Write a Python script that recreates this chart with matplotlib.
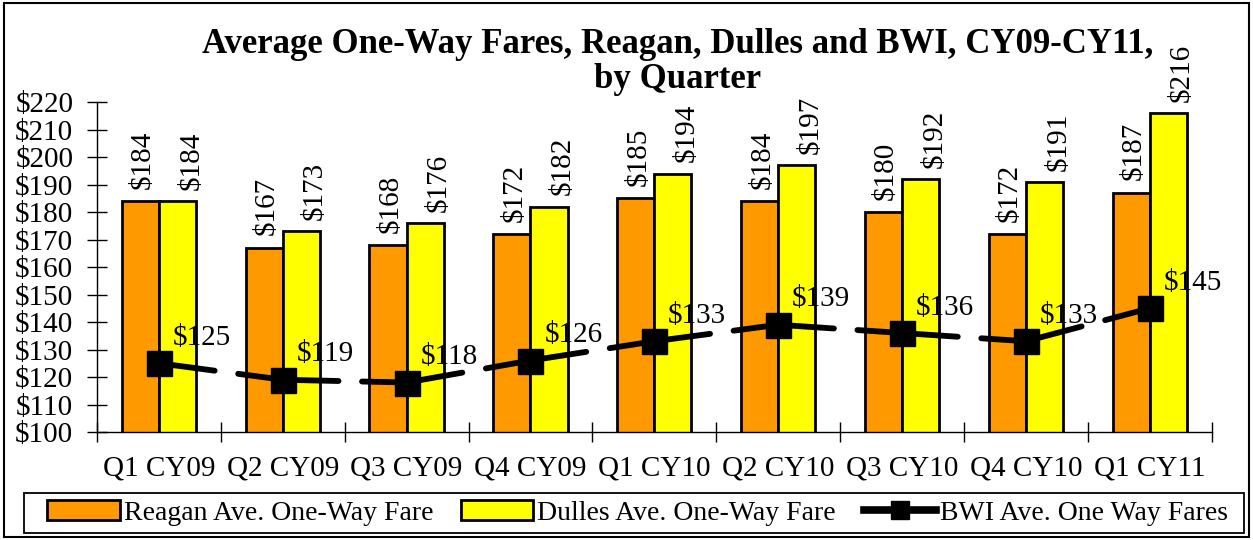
import matplotlib
matplotlib.use("Agg")
import matplotlib.pyplot as plt
import numpy as np
from matplotlib.patches import Rectangle
from matplotlib.lines import Line2D

categories = ["Q1 CY09", "Q2 CY09", "Q3 CY09", "Q4 CY09", "Q1 CY10",
              "Q2 CY10", "Q3 CY10", "Q4 CY10", "Q1 CY11"]
reagan = [184, 167, 168, 172, 185, 184, 180, 172, 187]
dulles = [184, 173, 176, 182, 194, 197, 192, 191, 216]
bwi = [125, 119, 118, 126, 133, 139, 136, 133, 145]
yticks = list(range(100, 221, 10))

plt.rcParams['font.family'] = ['Liberation Serif', 'DejaVu Serif']

fig = plt.figure(figsize=(12.53, 5.4), dpi=100)
ax = fig.add_axes([0.0774, 0.2, 0.8896, 0.611])

x = np.arange(len(categories))
w = 0.3
h1 = ax.bar(x - w / 2, reagan, w, color="#FF9900", edgecolor="black", linewidth=2,
            zorder=2)
h2 = ax.bar(x + w / 2, dulles, w, color="#FFFF00", edgecolor="black", linewidth=2,
            zorder=2)

# broken line segments between markers
for i in range(len(x) - 1):
    x0, y0, x1, y1 = x[i], bwi[i], x[i + 1], bwi[i + 1]
    dx, dy = x1 - x0, y1 - y0
    ax.plot([x0, x0 + 0.45 * dx], [y0, y0 + 0.45 * dy], color="black", lw=4.2,
            solid_capstyle="round", zorder=3)
    ax.plot([x0 + 0.64 * dx, x1], [y0 + 0.64 * dy, y1], color="black", lw=4.2,
            solid_capstyle="round", zorder=3)
ax.plot(x, bwi, linestyle="none", marker="s", markersize=18, color="black",
        zorder=4)
h3 = Line2D([], [], color="black", lw=5.5, marker="s", markersize=13)

fs = 21
for xi, r, d, b in zip(x, reagan, dulles, bwi):
    ax.annotate(f"${r}", (xi - w / 2, r), xytext=(2, 9), textcoords="offset points",
                rotation=90, ha="center", va="bottom", fontsize=fs)
    ax.annotate(f"${d}", (xi + w / 2, d), xytext=(10, 8), textcoords="offset points",
                rotation=90, ha="center", va="bottom", fontsize=fs)
    ax.annotate(f"${b}", (xi, b), xytext=(10, 9), textcoords="offset points",
                ha="left", va="bottom", fontsize=fs)

ax.set_xlim(-0.5, len(categories) - 0.5)
ax.set_ylim(100, 220)
ax.set_yticks(yticks)
ax.set_yticklabels([f"${v}" for v in yticks], fontsize=fs)
ax.set_xticks(x)
ax.set_xticklabels(categories, fontsize=fs)
ax.tick_params(axis="x", length=0, pad=17)
ax.set_xticks(np.arange(-0.5, len(categories), 1), minor=True)
ax.tick_params(axis="x", which="minor", direction="inout", length=14, width=1)
ax.tick_params(axis="y", direction="inout", length=14, width=1, pad=10)
for s in ["top", "right"]:
    ax.spines[s].set_visible(False)
ax.spines["left"].set_linewidth(1)
ax.spines["bottom"].set_linewidth(1)

fig.text(0.541, 0.885, "Average One-Way Fares, Reagan, Dulles and BWI, CY09-CY11,\nby Quarter",
         ha="center", va="center", fontsize=25, fontweight="bold", linespacing=1.05)

leg = fig.legend([h1, h2, h3],
                 ["Reagan Ave. One-Way Fare", "Dulles Ave. One-Way Fare",
                  "BWI Ave. One Way Fares"],
                 loc="center", bbox_to_anchor=(0.509, 0.05),
                 ncol=3, fontsize=20, frameon=False, handlelength=2.6,
                 handletextpad=0.15, columnspacing=1.0, borderpad=0)
fig.patches.append(Rectangle((24 / 1253, 7 / 540), 1220 / 1253, 40 / 540,
                             transform=fig.transFigure, fill=False,
                             edgecolor="black", linewidth=1.3))
fig.patches.append(Rectangle((0.003, 0.005), 0.994, 0.99, transform=fig.transFigure,
                             fill=False, edgecolor="black", linewidth=1.5))

fig.savefig("out.png", dpi=100)
